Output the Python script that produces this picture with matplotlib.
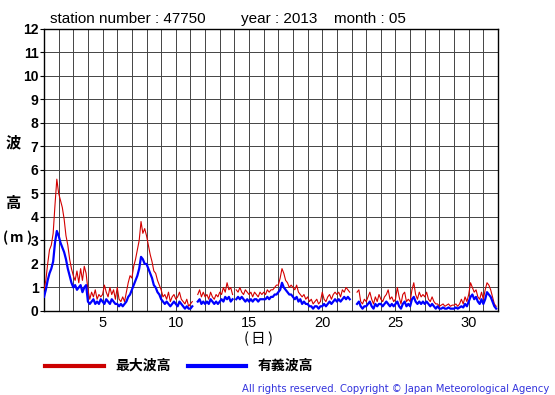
import numpy as np
import matplotlib
matplotlib.use("Agg")
import matplotlib.pyplot as plt
from matplotlib.lines import Line2D

nan = np.nan
# Values every 3 hours, 8 per day, days 1..31
hmax = [
    0.9, 1.3, 2.0, 2.6, 2.8, 3.3, 4.5, 5.6,   # 1
    5.0, 4.7, 4.4, 3.9, 3.2, 2.8, 2.2, 1.8,   # 2
    1.5, 1.3, 1.7, 1.2, 1.8, 1.3, 1.9, 1.6,   # 3
    0.9, 0.5, 0.8, 0.6, 0.9, 0.5, 0.7, 0.6,   # 4
    0.7, 1.1, 0.8, 0.6, 1.0, 0.7, 0.9, 0.5,   # 5
    1.0, 0.5, 0.4, 0.6, 0.4, 0.8, 1.2, 1.5,   # 6
    1.4, 1.9, 2.2, 2.6, 3.0, 3.8, 3.3, 3.5,   # 7
    3.2, 2.8, 2.4, 2.1, 1.7, 1.6, 1.3, 1.1,   # 8
    0.9, 0.6, 0.7, 0.5, 0.8, 0.4, 0.6, 0.7,   # 9
    0.5, 0.6, 0.8, 0.5, 0.4, 0.3, 0.5, 0.2,   # 10
    0.3, 0.4, nan, nan, 0.7, 0.9, 0.6, 0.8,   # 11
    0.6, 0.7, 0.5, 0.8, 0.6, 0.5, 0.7, 0.6,   # 12
    0.8, 0.7, 1.0, 0.8, 1.2, 0.9, 1.0, 0.7,   # 13
    nan, 0.9, 0.8, 1.0, 0.8, 0.7, 0.9, 0.8,   # 14
    0.7, 0.8, 0.6, 0.8, 0.7, 0.6, 0.8, 0.7,   # 15
    0.8, 0.7, 0.9, 0.8, 0.9, 0.9, 1.0, 1.1,   # 16
    1.1, 1.4, 1.8, 1.6, 1.3, 1.2, 1.0, 1.1,   # 17
    1.0, 0.9, 1.1, 0.8, 0.7, 0.6, 0.7, 0.5,   # 18
    0.6, 0.4, 0.5, 0.3, 0.4, 0.5, 0.3, 0.4,   # 19
    0.8, 0.5, 0.4, 0.6, 0.7, 0.5, 0.7, 0.8,   # 20
    0.7, 0.8, 0.6, 0.9, 0.8, 1.0, 0.9, 0.8,   # 21
    nan, nan, nan, 0.8, 0.9, 0.4, 0.3, 0.5,   # 22
    0.4, 0.6, 0.8, 0.5, 0.3, 0.6, 0.4, 0.7,   # 23
    0.5, 0.4, 0.6, 0.7, 0.9, 0.5, 0.6, 0.4,   # 24
    0.5, 1.0, 0.6, 0.3, 0.7, 0.8, 0.4, 0.5,   # 25
    0.4, 0.9, 1.2, 0.7, 0.5, 0.8, 0.6, 0.7,   # 26
    0.6, 0.8, 0.5, 0.4, 0.6, 0.4, 0.3, 0.3,   # 27
    0.2, 0.25, 0.3, 0.2, 0.25, 0.3, 0.2, 0.25,  # 28
    0.25, 0.3, 0.2, 0.3, 0.5, 0.3, 0.6, 0.4,  # 29
    0.7, 1.2, 1.0, 0.8, 0.9, 0.6, 0.5, 0.8,   # 30
    0.5, 0.9, 1.2, 1.1, 0.9, 0.6, 0.3, 0.2,   # 31
]
hsig = [
    0.6, 0.9, 1.3, 1.6, 1.8, 2.1, 2.9, 3.4,   # 1
    3.2, 2.9, 2.7, 2.5, 2.2, 1.8, 1.5, 1.2,   # 2
    1.0, 1.1, 0.9, 1.0, 1.1, 0.8, 1.0, 1.1,   # 3
    0.4, 0.3, 0.4, 0.5, 0.3, 0.4, 0.3, 0.5,   # 4
    0.4, 0.3, 0.5, 0.4, 0.3, 0.5, 0.4, 0.3,   # 5
    0.3, 0.2, 0.3, 0.2, 0.3, 0.4, 0.6, 0.7,   # 6
    0.9, 1.1, 1.3, 1.5, 1.8, 2.3, 2.2, 2.0,   # 7
    2.0, 1.8, 1.6, 1.4, 1.1, 1.0, 0.8, 0.7,   # 8
    0.5, 0.4, 0.3, 0.4, 0.3, 0.2, 0.3, 0.4,   # 9
    0.3, 0.2, 0.4, 0.3, 0.2, 0.1, 0.2, 0.1,   # 10
    0.1, 0.2, nan, nan, 0.4, 0.5, 0.3, 0.4,   # 11
    0.3, 0.4, 0.3, 0.5, 0.4, 0.3, 0.4, 0.3,   # 12
    0.4, 0.5, 0.4, 0.6, 0.5, 0.6, 0.4, 0.5,   # 13
    nan, 0.5, 0.6, 0.5, 0.6, 0.5, 0.4, 0.5,   # 14
    0.4, 0.5, 0.4, 0.5, 0.5, 0.4, 0.5, 0.5,   # 15
    0.5, 0.5, 0.6, 0.5, 0.6, 0.6, 0.7, 0.7,   # 16
    0.8, 0.9, 1.2, 1.0, 0.9, 0.8, 0.7, 0.7,   # 17
    0.6, 0.5, 0.6, 0.4, 0.5, 0.3, 0.4, 0.3,   # 18
    0.3, 0.2, 0.2, 0.1, 0.2, 0.2, 0.1, 0.2,   # 19
    0.2, 0.3, 0.2, 0.3, 0.4, 0.3, 0.4, 0.5,   # 20
    0.4, 0.5, 0.4, 0.5, 0.6, 0.5, 0.6, 0.5,   # 21
    nan, nan, nan, 0.3, 0.4, 0.2, 0.1, 0.2,   # 22
    0.2, 0.3, 0.4, 0.2, 0.1, 0.3, 0.2, 0.3,   # 23
    0.3, 0.2, 0.3, 0.4, 0.3, 0.2, 0.3, 0.2,   # 24
    0.3, 0.4, 0.2, 0.1, 0.3, 0.4, 0.2, 0.3,   # 25
    0.2, 0.5, 0.6, 0.4, 0.3, 0.4, 0.3, 0.4,   # 26
    0.3, 0.4, 0.3, 0.2, 0.3, 0.2, 0.1, 0.2,   # 27
    0.1, 0.1, 0.15, 0.1, 0.1, 0.15, 0.1, 0.1,  # 28
    0.1, 0.15, 0.1, 0.15, 0.2, 0.15, 0.3, 0.2,  # 29
    0.4, 0.6, 0.7, 0.5, 0.6, 0.4, 0.3, 0.5,   # 30
    0.3, 0.5, 0.8, 0.7, 0.6, 0.4, 0.2, 0.1,   # 31
]
samples_per_day = 8
day_ticks = [5, 10, 15, 20, 25, 30]
y_ticks = list(range(0, 13))

title_parts = ["station number : 47750", "year : 2013", "month : 05"]
legend_labels = ["最大波高", "有義波高"]

t = 1 + np.arange(len(hmax)) / samples_per_day

W, H = 555, 395
fig = plt.figure(figsize=(W/100, H/100), dpi=100)
ax_l, ax_r, ax_t, ax_b = 44, 498, 28.5, 311
ax = fig.add_axes([ax_l/W, 1-ax_b/H, (ax_r-ax_l)/W, (ax_b-ax_t)/H])

ax.plot(t, hmax, color="#d40000", lw=0.8, zorder=3)
ax.plot(t, hsig, color="#0000ff", lw=1.6, zorder=4)

sans = "Liberation Sans"
ax.set_xlim(1, 32)
ax.set_ylim(0, 12)
ax.set_xticks(np.arange(1, 33))
ax.set_xticklabels([str(d) if d in day_ticks else "" for d in range(1, 33)],
                   fontsize=10.5, family=sans)
ax.set_yticks(y_ticks)
ax.set_yticklabels([str(v) for v in y_ticks], fontsize=10, fontweight="bold", family=sans)
ax.tick_params(axis="x", length=0, pad=3.5)
ax.tick_params(axis="y", length=3, width=0.8, direction="out", pad=1)
ax.grid(True, color="#444444", lw=0.7)
ax.set_axisbelow(True)
for s in ax.spines.values():
    s.set_linewidth(1.0)
    s.set_color("black")

def fx(x):
    return x / W

def fy(y):
    return 1 - y / H

cjk = ["Noto Sans CJK JP", "DejaVu Sans"]
for x0, txt in zip([50, 241, 334], title_parts):
    fig.text(fx(x0), fy(23), txt, fontsize=11, family=sans, va="baseline", ha="left")

fig.text(fx(13), fy(142), "波", family=cjk, fontsize=11, fontweight="bold", ha="center", va="center")
fig.text(fx(13), fy(203), "高", family=cjk, fontsize=11, fontweight="bold", ha="center", va="center")
# (m) drawn as spaced pieces like the reference
for xc, ch in zip([5, 17, 28.5], ["(", "m", ")"]):
    fig.text(fx(xc), fy(238), ch, family=cjk, fontsize=10, fontweight="bold", ha="center", va="center")
for xc, ch in zip([246, 258, 270], ["(", "日", ")"]):
    fig.text(fx(xc), fy(339), ch, family=cjk, fontsize=10.5, ha="center", va="center")

# legend
ly = 366
fig.add_artist(Line2D([fx(45), fx(104)], [fy(ly)]*2, color="#cc0000", lw=3))
fig.text(fx(115), fy(ly), legend_labels[0], family=cjk, fontsize=10, fontweight="bold", va="center")
fig.add_artist(Line2D([fx(188), fx(246)], [fy(ly)]*2, color="#0000ff", lw=3))
fig.text(fx(258), fy(ly), legend_labels[1], family=cjk, fontsize=10, fontweight="bold", va="center")

fig.text(fx(549), fy(389), "All rights reserved. Copyright © Japan Meteorological Agency",
         fontsize=7.2, color="#3333dd", ha="right", va="center")

fig.savefig("out.png", dpi=100)
